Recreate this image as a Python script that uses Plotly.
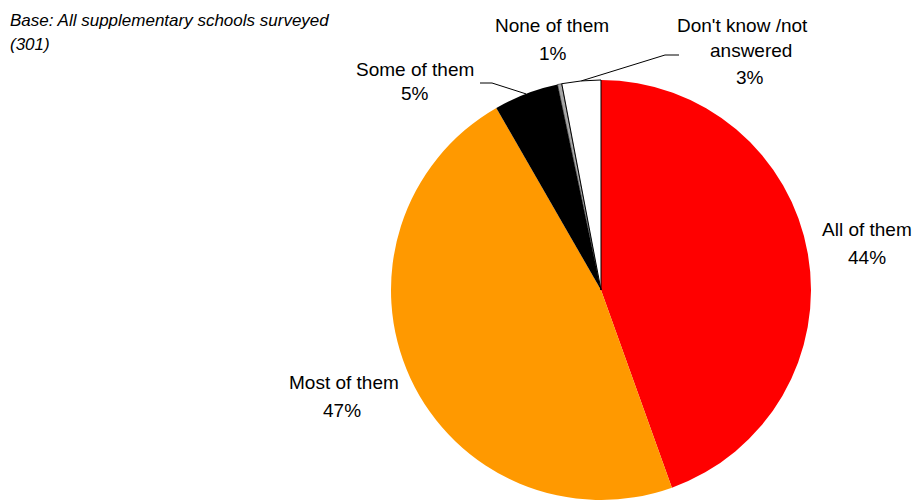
import math
import plotly.graph_objects as go

# ---- data ----
categories = ["All of them", "Most of them", "Some of them", "None of them", "Don't know /not answered"]
counts = [134, 142, 15, 1, 9]          # base 301 schools
pct_labels = ["44%", "47%", "5%", "1%", "3%"]
colors = ["#FF0000", "#FF9900", "#000000", "#A6A6A6", "#FFFFFF"]
title_lines = ["Base: All supplementary schools surveyed", "(301)"]

W, H = 918, 500
# pie geometry (pixels)
CX, CY, R = 601, 290, 210

fig = go.Figure()
fig.add_trace(go.Pie(
    labels=categories,
    values=counts,
    sort=False,
    direction="clockwise",
    rotation=0,
    textinfo="none",
    hoverinfo="label+percent",
    marker=dict(colors=colors,
                line=dict(color=["#FF0000", "#FF9900", "#000000", "#000000", "#000000"],
                          width=[0, 0, 0, 0.6, 1])),
    domain=dict(x=[(CX - R) / W, (CX + R) / W], y=[(H - CY - R) / H, (H - CY + R) / H]),
    showlegend=False,
))

# invisible pixel axes for labels / leader lines
fig.update_layout(
    xaxis=dict(range=[0, W], visible=False, fixedrange=True),
    yaxis=dict(range=[H, 0], visible=False, fixedrange=True),
)

font = dict(family="Liberation Sans, Arial, sans-serif", size=19, color="#000000")

# label line positions (pixel centres)
label_pos = {
    "All of them": [("All of them", 867, 229.5), (None, 867, 257.5)],
    "Most of them": [("Most of them", 344, 382.5), (None, 342, 410.5)],
    "Some of them": [("Some of them", 415, 69), (None, 415, 93.5)],
    "None of them": [("None of them", 552, 25), (None, 553, 53.5)],
    "Don't know /not answered": [("Don't know /not", 742, 25), ("answered", 751, 50.5), (None, 750, 77.5)],
}
for cat, pct in zip(categories, pct_labels):
    for txt, x, y in label_pos[cat]:
        fig.add_annotation(x=x, y=y, xref="x", yref="y", text=txt if txt else pct,
                           showarrow=False, xanchor="center", yanchor="middle", font=font)

# title
tfont = dict(family="Liberation Sans, Arial, sans-serif", size=17, color="#000000")
fig.add_annotation(x=8, y=20, xref="x", yref="y", text="<i>%s</i>" % title_lines[0], showarrow=False,
                   xanchor="left", yanchor="middle", font=tfont)
fig.add_annotation(x=8, y=44, xref="x", yref="y", text="<i>%s</i>" % title_lines[1], showarrow=False,
                   xanchor="left", yanchor="middle", font=tfont)

# leader lines: anchored at slice mid-angle on the rim
total = sum(counts)
cum = 0
mid = {}
for cat, v in zip(categories, counts):
    mid[cat] = (cum + v / 2) / total * 2 * math.pi
    cum += v

def rim(cat):
    a = mid[cat]
    return CX + R * math.sin(a), CY - R * math.cos(a)

sx, sy = rim("Some of them")
fig.add_shape(type="path", xref="x", yref="y",
              path=f"M 480 83 L 492 83 L {sx:.1f} {sy:.1f}", line=dict(color="#000000", width=1))
dx, dy = rim("Don't know /not answered")
fig.add_shape(type="path", xref="x", yref="y",
              path=f"M {dx:.1f} {dy:.1f} L 665 55 L 679 55", line=dict(color="#000000", width=1))

fig.update_layout(
    width=W, height=H,
    margin=dict(l=0, r=0, t=0, b=0),
    paper_bgcolor="#FFFFFF", plot_bgcolor="rgba(0,0,0,0)",
)

fig.write_html("out.html", config={"displayModeBar": False},
               post_script="document.body.style.margin='0';")
